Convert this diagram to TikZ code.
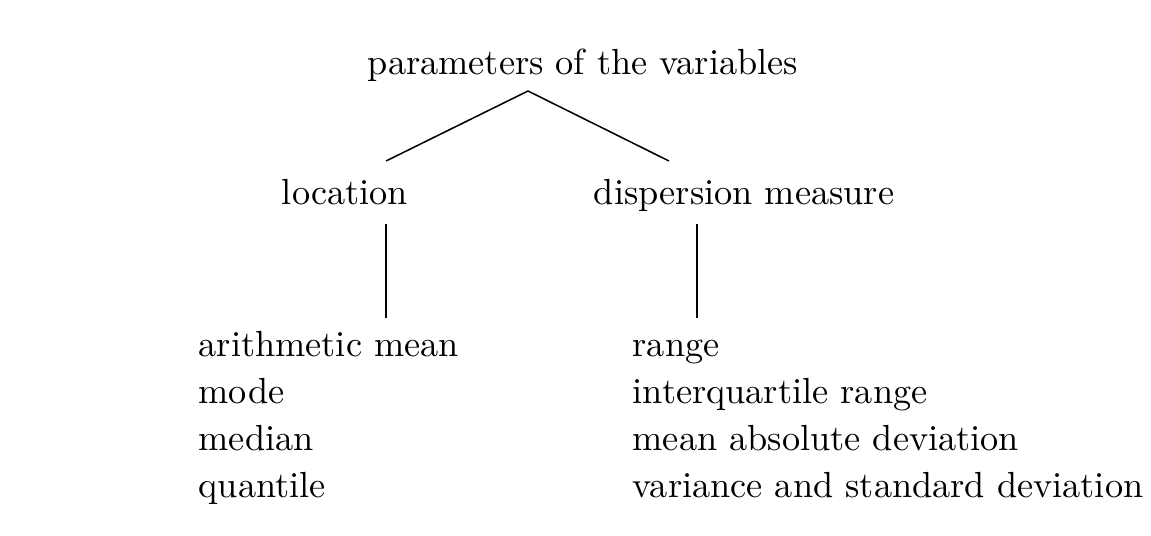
\documentclass[tikz,border=0pt]{standalone}
\usetikzlibrary{positioning}
\tikzset{
  heading/.style={inner sep=0pt,anchor=base},
  entry/.style={inner sep=0pt,anchor=base west},
  branch/.style={draw=black,line width=.42pt}
}
\begin{document}
\begin{tikzpicture}[x=0.2755pt,y=-0.2755pt]
  \useasboundingbox (0,0) rectangle (1151,535);
  % tree heads
  \node[heading] (params) at (583,74) {parameters of the variables};
  \node[heading] (loc) at (345,204) {location};
  \node[heading] (disp) at (744,204) {dispersion measure};
  % branch points
  \coordinate (apex) at (528,91);
  \coordinate (locup) at (386,161);
  \coordinate (dispup) at (669,161);
  \coordinate (locdown) at (386,224);
  \coordinate (locend) at (386,318);
  \coordinate (dispdown) at (697,224);
  \coordinate (dispend) at (697,318);
  \draw[branch] (locup) -- (apex) -- (dispup);
  \draw[branch] (locdown) -- (locend);
  \draw[branch] (dispdown) -- (dispend);
  % lists
  \foreach \entrytext [count=\i] in {arithmetic mean,mode,median,quantile}
    \node[entry] (loc\i) at (198,{356+47*(\i-1)}) {\entrytext};
  \foreach \entrytext [count=\i] in {range,interquartile range,mean absolute deviation,variance and standard deviation}
    \node[entry] (disp\i) at (632,{356+47*(\i-1)}) {\entrytext};
\end{tikzpicture}
\end{document}
